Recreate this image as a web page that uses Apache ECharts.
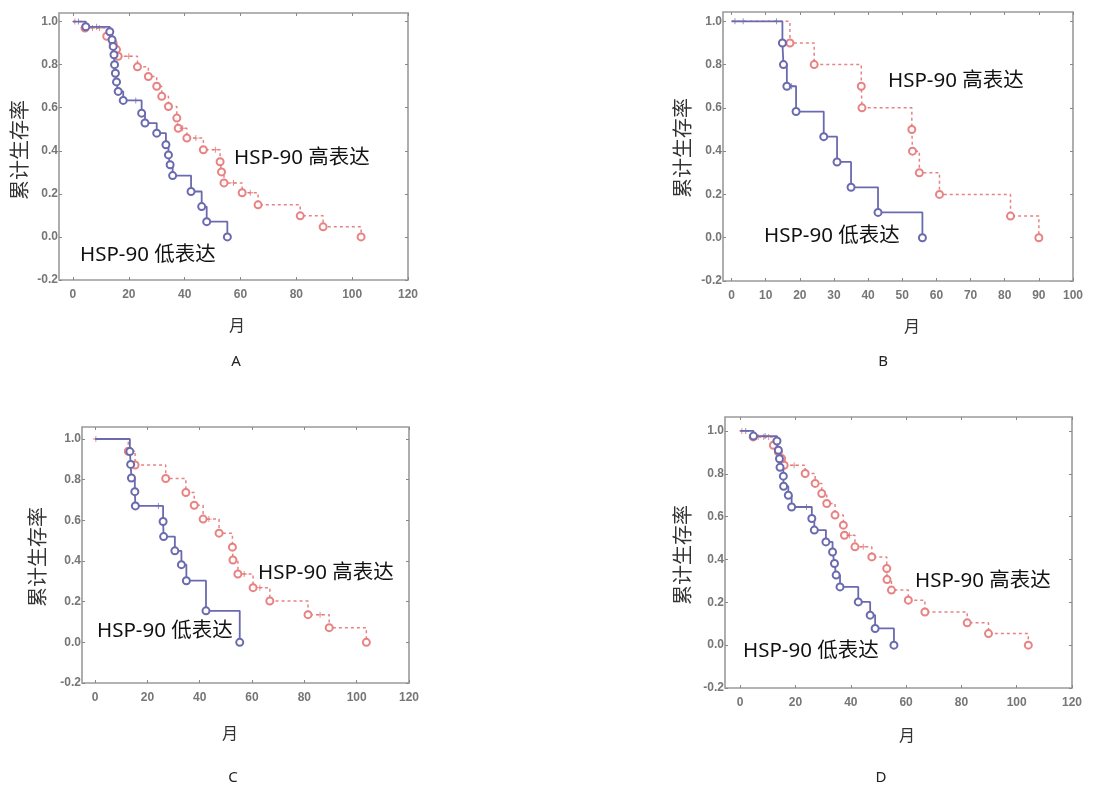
<!DOCTYPE html>
<html><head><meta charset="utf-8">
<script src="https://cdn.jsdelivr.net/npm/echarts@6/dist/echarts.min.js"></script>
<style>html,body{margin:0;padding:0;background:#fff}#c{width:1093px;height:785px}</style>
</head><body><div id="c"></div>
<script>
// ---- tick labels ----
const xTicks120 = [0, 20, 40, 60, 80, 100, 120];
const xTicks100 = [0, 10, 20, 30, 40, 50, 60, 70, 80, 90, 100];
const yTicks = [-0.2, 0, 0.2, 0.4, 0.6, 0.8, 1.0];

// ---- text ----
const panelLetters = ['A', 'B', 'C', 'D'];
const yTitle = '累计生存率';
const xTitle = '月';
const highLabel = 'HSP-90 高表达';
const lowLabel = 'HSP-90 低表达';

// ---- Panel A ----
const lowA_t = [4.6, 13.2, 14.0, 14.4, 14.7, 14.9, 15.2, 15.6, 16.2, 18.0, 24.6, 25.8, 30.0, 33.3, 34.2, 34.8, 35.7, 42.3, 46.1, 47.9, 55.3];
const lowA_s = [0.976, 0.953, 0.916, 0.885, 0.846, 0.80, 0.76, 0.72, 0.676, 0.634, 0.575, 0.529, 0.482, 0.428, 0.381, 0.335, 0.285, 0.211, 0.141, 0.071, 0.0];
const lowA_censT = [2.0, 8.5, 22.5];
const lowA_censS = [1.0, 0.976, 0.634];
const highA_t = [4.3, 12.1, 14.4, 15.6, 16.2, 23.1, 27.0, 30.0, 31.8, 34.2, 37.2, 37.7, 40.8, 46.7, 52.7, 53.2, 54.1, 60.6, 66.3, 81.4, 89.6, 103.2];
const highA_s = [0.97, 0.932, 0.90, 0.87, 0.839, 0.79, 0.745, 0.70, 0.653, 0.606, 0.552, 0.505, 0.459, 0.405, 0.349, 0.302, 0.251, 0.205, 0.149, 0.098, 0.047, 0.0];
const highA_censT = [0.7, 7.0, 9.5, 20.0, 39.3, 44.0, 51.0, 57.5, 63.5];
const highA_censS = [1.0, 0.97, 0.97, 0.839, 0.505, 0.459, 0.405, 0.251, 0.205];

// ---- Panel B ----
const lowB_t = [14.9, 15.2, 16.2, 18.9, 27.0, 30.9, 35.0, 42.9, 55.9];
const lowB_s = [0.9, 0.8, 0.7, 0.583, 0.467, 0.35, 0.233, 0.117, 0.0];
const lowB_censT = [1.0, 3.4, 13.2, 17.6];
const lowB_censS = [1.0, 1.0, 1.0, 0.7];
const highB_t = [17.1, 24.2, 38.0, 38.2, 52.8, 53.0, 55.0, 60.9, 81.7, 90.0];
const highB_s = [0.9, 0.8, 0.7, 0.6, 0.5, 0.4, 0.3, 0.2, 0.1, 0.0];
const highB_censT = [];
const highB_censS = [];

// ---- Panel C ----
const lowC_t = [13.3, 13.6, 13.9, 15.2, 15.4, 26.0, 26.2, 30.5, 33.0, 34.9, 42.4, 55.3];
const lowC_s = [0.938, 0.875, 0.808, 0.741, 0.671, 0.594, 0.52, 0.45, 0.382, 0.303, 0.155, 0.0];
const lowC_censT = [24.2];
const lowC_censS = [0.671];
const highC_t = [12.7, 15.3, 27.0, 34.7, 37.9, 41.3, 47.4, 52.5, 52.7, 54.6, 60.4, 66.8, 81.4, 89.5, 103.7];
const highC_s = [0.94, 0.872, 0.806, 0.737, 0.674, 0.606, 0.537, 0.468, 0.405, 0.336, 0.269, 0.203, 0.136, 0.072, 0.0];
const highC_censT = [0.3, 14.2, 43.5, 57.0, 63.0, 86.0];
const highC_censS = [1.0, 0.94, 0.606, 0.336, 0.269, 0.136];

// ---- Panel D ----
const lowD_t = [4.8, 13.3, 13.8, 14.2, 14.4, 15.6, 15.7, 17.4, 18.6, 25.9, 26.8, 31.0, 33.4, 34.1, 34.7, 36.1, 42.7, 47.0, 48.8, 55.6];
const lowD_s = [0.976, 0.953, 0.91, 0.87, 0.83, 0.789, 0.742, 0.70, 0.645, 0.591, 0.537, 0.482, 0.435, 0.381, 0.327, 0.272, 0.202, 0.14, 0.078, 0.0];
const lowD_censT = [2.0, 9.0, 24.0];
const lowD_censS = [1.0, 0.976, 0.645];
const highD_t = [4.7, 12.0, 13.8, 15.0, 15.9, 23.5, 27.1, 29.5, 31.3, 34.3, 37.3, 37.7, 41.5, 47.6, 53.0, 53.1, 54.7, 60.8, 66.8, 82.1, 89.8, 104.2];
const highD_s = [0.972, 0.933, 0.902, 0.871, 0.84, 0.801, 0.755, 0.708, 0.661, 0.607, 0.56, 0.513, 0.459, 0.412, 0.358, 0.306, 0.257, 0.21, 0.155, 0.104, 0.054, 0.0];
const highD_censT = [0.6, 6.5, 8.5, 10.3, 19.5, 39.5, 44.5];
const highD_censS = [1.0, 0.972, 0.972, 0.972, 0.84, 0.513, 0.459];

const BLUE = '#6a6aae';
const RED = '#e47676';
const FRAME = '#9a9a9a';

const panels = [
  { grid: { left: 59, top: 13, width: 349, height: 267 }, xMin: -5, xMax: 120, yMax: 1.04, xTicks: xTicks120,
    low: [lowA_t, lowA_s, lowA_censT, lowA_censS], high: [highA_t, highA_s, highA_censT, highA_censS],
    hiPos: [234, 158], loPos: [80, 255], yTitlePos: [19, 150], xTitlePos: [237, 325], letterPos: [236, 362] },
  { grid: { left: 723, top: 12, width: 350, height: 269 }, xMin: -2.5, xMax: 100, yMax: 1.043, xTicks: xTicks100,
    low: [lowB_t, lowB_s, lowB_censT, lowB_censS], high: [highB_t, highB_s, highB_censT, highB_censS],
    hiPos: [888, 81], loPos: [764, 236], yTitlePos: [682, 148], xTitlePos: [912, 326], letterPos: [883, 362] },
  { grid: { left: 82, top: 427, width: 327, height: 256 }, xMin: -5, xMax: 120, yMax: 1.059, xTicks: xTicks120,
    low: [lowC_t, lowC_s, lowC_censT, lowC_censS], high: [highC_t, highC_s, highC_censT, highC_censS],
    hiPos: [258, 573], loPos: [97, 631], yTitlePos: [37, 557], xTitlePos: [230, 733], letterPos: [233, 778] },
  { grid: { left: 725, top: 417, width: 347, height: 271 }, xMin: -5.5, xMax: 120, yMax: 1.065, xTicks: xTicks120,
    low: [lowD_t, lowD_s, lowD_censT, lowD_censS], high: [highD_t, highD_s, highD_censT, highD_censS],
    hiPos: [915, 581], loPos: [743, 651], yTitlePos: [682, 555], xTitlePos: [907, 735], letterPos: [881, 778] }
];

const PLUS = 'path://M-0.6,-4H0.6V4H-0.6Z M-4,-0.6H4V0.6H-4Z';

function stepData(ts, ss) {
  const d = [{ value: [0, 1], symbol: 'none' }];
  ts.forEach((t, k) => d.push({ value: [t, ss[k]] }));
  return d;
}
function pairs(ts, ss) { return ts.map((t, k) => [t, ss[k]]); }

const grids = [], xAxes = [], yAxes = [], series = [], graphics = [];
const tickStyle = { show: true, inside: true, length: 3, lineStyle: { color: '#888', width: 1 } };
const labelFont = { color: '#767676', fontSize: 12, fontWeight: 'bold', fontFamily: 'Liberation Sans, Arial, sans-serif' };
const noLine = { show: false, onZero: false };

panels.forEach((p, i) => {
  grids.push(Object.assign({ show: true, borderColor: FRAME, borderWidth: 1.6, backgroundColor: '#fff', outerBoundsMode: 'none', containLabel: false }, p.grid));
  xAxes.push({ type: 'value', gridIndex: i, position: 'bottom', min: p.xMin, max: p.xMax,
    axisLine: noLine, splitLine: { show: false },
    axisTick: Object.assign({ customValues: p.xTicks }, tickStyle),
    axisLabel: Object.assign({ customValues: p.xTicks, margin: 9 }, labelFont) });
  xAxes.push({ type: 'value', gridIndex: i, position: 'top', min: p.xMin, max: p.xMax,
    axisLine: noLine, splitLine: { show: false },
    axisTick: Object.assign({ customValues: p.xTicks }, tickStyle), axisLabel: { show: false } });
  yAxes.push({ type: 'value', gridIndex: i, position: 'left', min: -0.2, max: p.yMax,
    axisLine: noLine, splitLine: { show: false },
    axisTick: Object.assign({ customValues: yTicks }, tickStyle),
    axisLabel: Object.assign({ customValues: yTicks, margin: 1, formatter: v => Number(v).toFixed(1) }, labelFont) });
  yAxes.push({ type: 'value', gridIndex: i, position: 'right', min: -0.2, max: p.yMax,
    axisLine: noLine, splitLine: { show: false },
    axisTick: Object.assign({ customValues: yTicks }, tickStyle), axisLabel: { show: false } });

  const xi = i * 2, yi = i * 2;
  series.push({ type: 'line', xAxisIndex: xi, yAxisIndex: yi, step: 'end', data: stepData(p.high[0], p.high[1]),
    symbol: 'emptyCircle', symbolSize: 7, showSymbol: true,
    lineStyle: { color: RED, width: 1.5, type: [3, 3], opacity: 0.9 },
    itemStyle: { color: RED, borderColor: RED, borderWidth: 1.2, opacity: 0.9 }, z: 2, silent: true });
  series.push({ type: 'scatter', xAxisIndex: xi, yAxisIndex: yi, data: pairs(p.high[2], p.high[3]),
    symbol: PLUS, symbolSize: 6, itemStyle: { color: RED, opacity: 0.9 }, z: 3, silent: true });
  series.push({ type: 'line', xAxisIndex: xi, yAxisIndex: yi, step: 'end', data: stepData(p.low[0], p.low[1]),
    symbol: 'emptyCircle', symbolSize: 7, showSymbol: true,
    lineStyle: { color: BLUE, width: 1.8 },
    itemStyle: { color: BLUE, borderColor: BLUE, borderWidth: 1.2 }, z: 4, silent: true });
  series.push({ type: 'scatter', xAxisIndex: xi, yAxisIndex: yi, data: pairs(p.low[2], p.low[3]),
    symbol: PLUS, symbolSize: 6, itemStyle: { color: BLUE }, z: 5, silent: true });

  const font = (s) => s + 'px "Noto Sans", "Noto Sans CJK SC", sans-serif';
  graphics.push({ type: 'text', x: p.hiPos[0], y: p.hiPos[1], z: 100,
    style: { text: highLabel, fill: '#111', font: font(20.5), align: 'left', verticalAlign: 'middle' } });
  graphics.push({ type: 'text', x: p.loPos[0], y: p.loPos[1], z: 100,
    style: { text: lowLabel, fill: '#111', font: font(20.5), align: 'left', verticalAlign: 'middle' } });
  graphics.push({ type: 'text', x: p.yTitlePos[0], y: p.yTitlePos[1], rotation: Math.PI / 2, z: 100,
    style: { text: yTitle, fill: '#333', font: '20px "Noto Sans CJK SC", sans-serif', align: 'center', verticalAlign: 'middle' } });
  graphics.push({ type: 'text', x: p.xTitlePos[0], y: p.xTitlePos[1], z: 100,
    style: { text: xTitle, fill: '#333', font: '16px "Noto Sans CJK SC", sans-serif', align: 'center', verticalAlign: 'middle' } });
  graphics.push({ type: 'text', x: p.letterPos[0], y: p.letterPos[1], z: 100,
    style: { text: panelLetters[i], fill: '#222', font: '15px "Noto Sans", sans-serif', align: 'center', verticalAlign: 'middle' } });
});

const chart = echarts.init(document.getElementById('c'), null, { renderer: 'canvas' });
chart.setOption({
  animation: false,
  backgroundColor: '#fff',
  grid: grids, xAxis: xAxes, yAxis: yAxes, series: series, graphic: graphics
});
</script>
</body></html>
